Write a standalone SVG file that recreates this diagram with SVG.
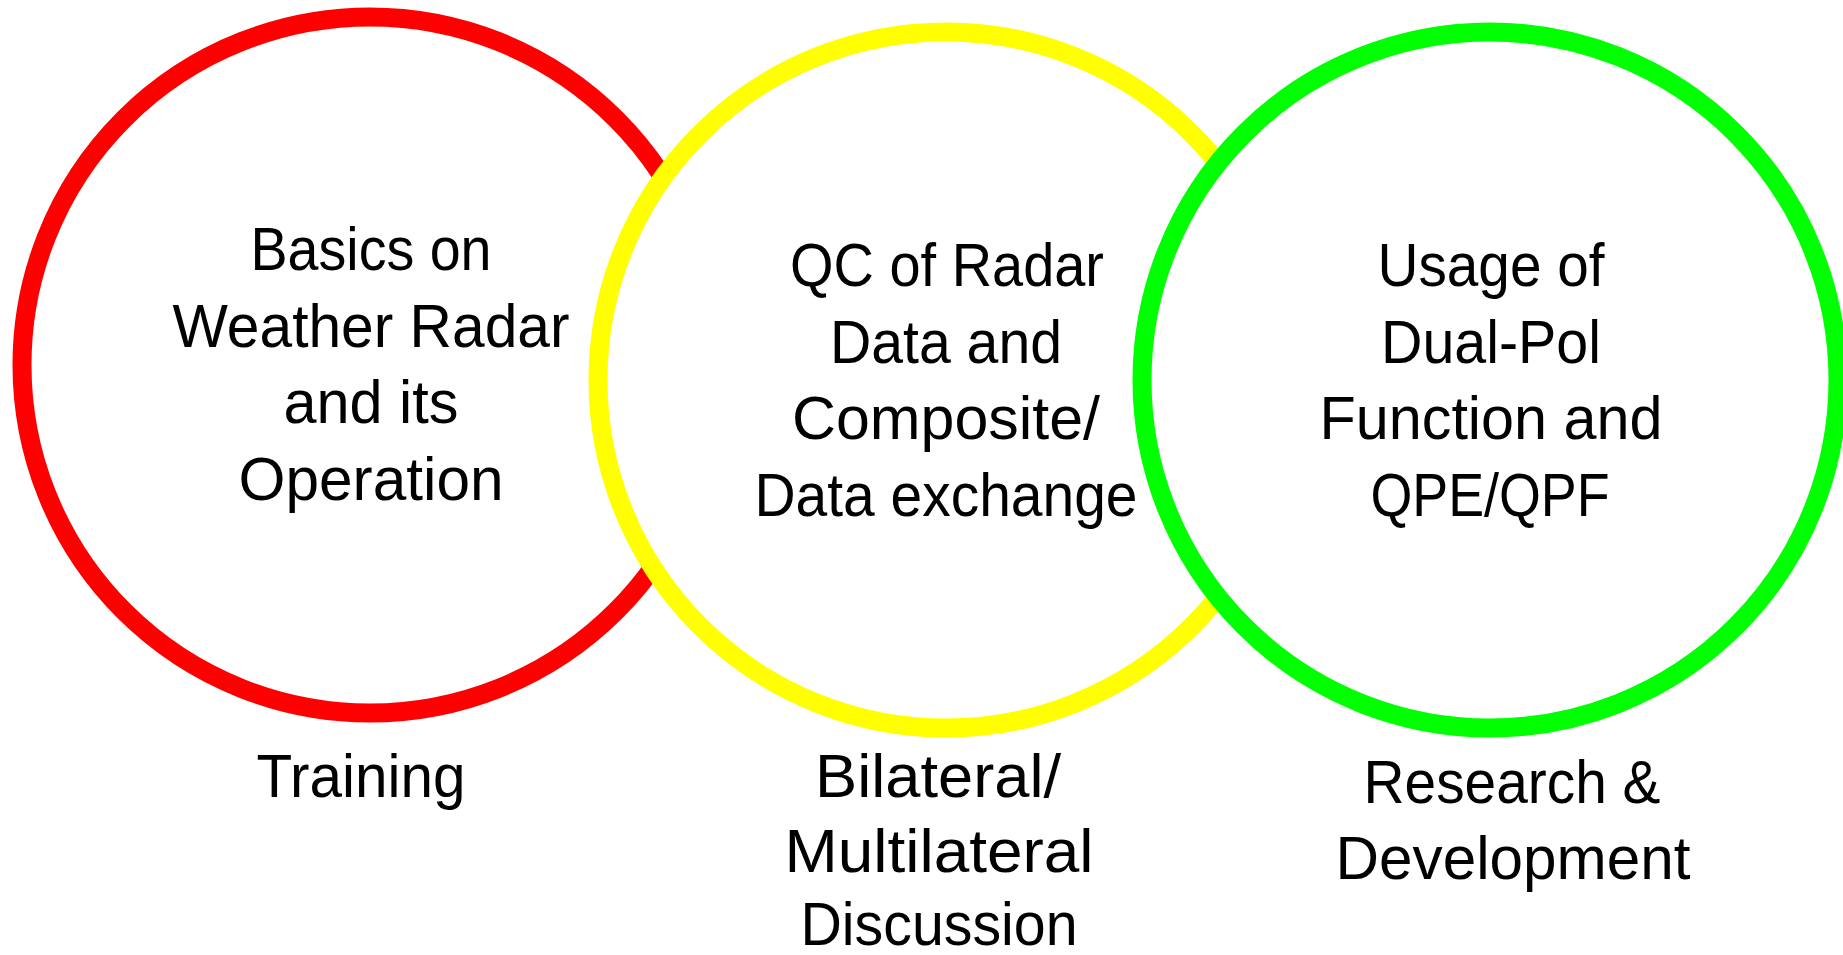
<svg xmlns="http://www.w3.org/2000/svg" width="1843" height="955" viewBox="0 0 1843 955">
<style>
.ring{fill:#fff;stroke-width:19}
.t{font-family:"Liberation Sans",Arial,sans-serif;font-size:61px;fill:#000;text-anchor:middle}
</style>
<rect x="0" y="0" width="1843" height="955" fill="#fff"/>
<g id="node-training">
<circle class="ring" cx="370" cy="365" r="348" stroke="#FF0000"/>
</g>
<g id="node-discussion">
<circle class="ring" cx="946" cy="380" r="348" stroke="#FFFF00"/>
</g>
<g id="node-research">
<circle class="ring" cx="1490" cy="380" r="348" stroke="#00FF00"/>
</g>
<g id="node-training-text">
<text class="t"><tspan x="371" y="270" textLength="241" lengthAdjust="spacingAndGlyphs">Basics on</tspan><tspan x="371" y="347" textLength="397" lengthAdjust="spacingAndGlyphs">Weather Radar</tspan><tspan x="371" y="423" textLength="175" lengthAdjust="spacingAndGlyphs">and its</tspan><tspan x="371" y="500" textLength="265" lengthAdjust="spacingAndGlyphs">Operation</tspan></text>
</g>
<g id="node-discussion-text">
<text class="t"><tspan x="947" y="286" textLength="314" lengthAdjust="spacingAndGlyphs">QC of Radar</tspan><tspan x="946" y="363" textLength="232" lengthAdjust="spacingAndGlyphs">Data and</tspan><tspan x="946" y="439" textLength="308" lengthAdjust="spacingAndGlyphs">Composite/</tspan><tspan x="946" y="516" textLength="383" lengthAdjust="spacingAndGlyphs">Data exchange</tspan></text>
</g>
<g id="node-research-text">
<text class="t"><tspan x="1491" y="286" textLength="227" lengthAdjust="spacingAndGlyphs">Usage of</tspan><tspan x="1491" y="363" textLength="220" lengthAdjust="spacingAndGlyphs">Dual-Pol</tspan><tspan x="1491" y="439" textLength="343" lengthAdjust="spacingAndGlyphs">Function and</tspan><tspan x="1490" y="516" textLength="239" lengthAdjust="spacingAndGlyphs">QPE/QPF</tspan></text>
</g>
<g id="labels">
<text class="t" x="361" y="797" textLength="209" lengthAdjust="spacingAndGlyphs">Training</text>
<text class="t"><tspan x="938" y="797" textLength="246" lengthAdjust="spacingAndGlyphs">Bilateral/</tspan><tspan x="939" y="872" textLength="309" lengthAdjust="spacingAndGlyphs">Multilateral</tspan><tspan x="939" y="945" textLength="277" lengthAdjust="spacingAndGlyphs">Discussion</tspan></text>
<text class="t"><tspan x="1512" y="803" textLength="297" lengthAdjust="spacingAndGlyphs">Research &amp;</tspan><tspan x="1513" y="879" textLength="355" lengthAdjust="spacingAndGlyphs">Development</tspan></text>
</g>
<g id="connectors"></g>
</svg>
